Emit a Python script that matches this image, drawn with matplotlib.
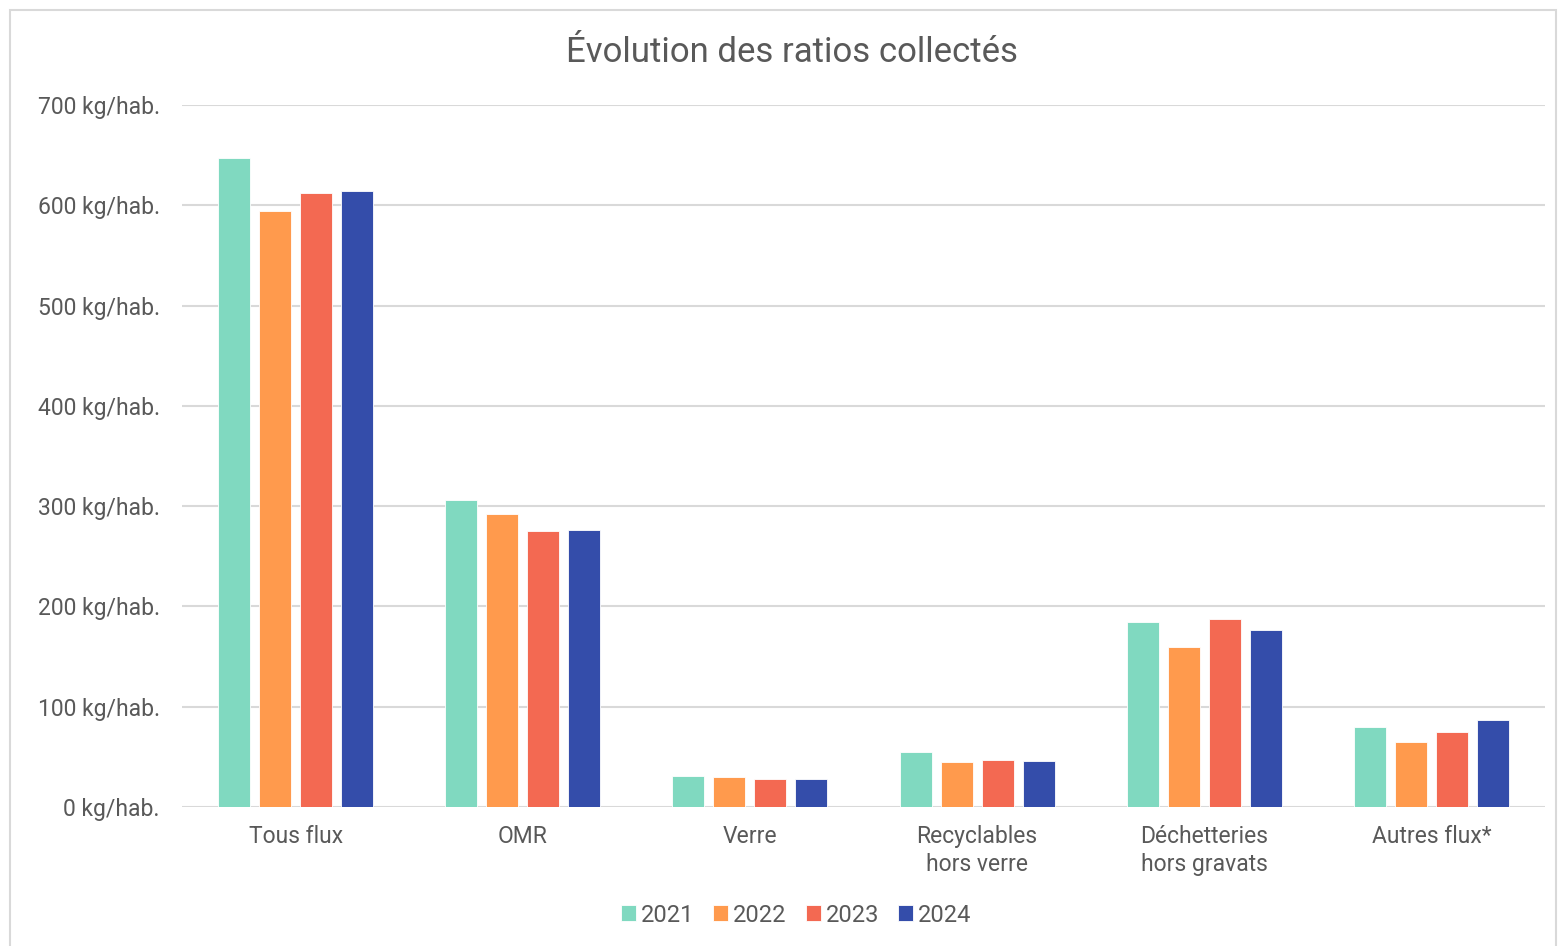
import matplotlib
matplotlib.use("Agg")
import matplotlib.pyplot as plt
import numpy as np
from matplotlib.patches import Rectangle

categories = ["Tous flux", "OMR", "Verre", "Recyclables\nhors verre", "Déchetteries\nhors gravats", "Autres flux*"]
years = ["2021", "2022", "2023", "2024"]
v2021 = [647, 306, 31, 55, 184, 80]
v2022 = [594, 292, 30, 45, 160, 65]
v2023 = [612, 275, 28, 47, 187, 75]
v2024 = [614, 276, 28, 46, 176, 87]
yticks = [0, 100, 200, 300, 400, 500, 600, 700]
title = "Évolution des ratios collectés"

series = [v2021, v2022, v2023, v2024]
colors = ["#80D9C0", "#FF9A4D", "#F36952", "#344DAA"]
text_color = "#595959"
grid_color = "#D9D9D9"

plt.rcParams['font.family'] = ['Roboto', 'DejaVu Sans']

fig = plt.figure(figsize=(15.58, 9.46), dpi=100)
fig.patches.append(Rectangle((10/1558, -0.01), (1556-10)/1558, 1 - 10/946 + 0.01,
                             transform=fig.transFigure, fill=False,
                             edgecolor=grid_color, linewidth=1.5))

ax = fig.add_axes([182/1558, 1-807/946, (1545-182)/1558, (807-105)/946])
x = np.arange(len(categories))
slot = 41/227
width = 32/227
for i, (vals, c, yr) in enumerate(zip(series, colors, years)):
    ax.bar(x + (i - 1.5) * slot, vals, width=width, color=c, label=yr,
           edgecolor="white", linewidth=0.6, zorder=3)

ax.set_xlim(-0.5, len(categories) - 0.5)
ax.set_ylim(0, 700)
ax.set_yticks(yticks)
ax.set_yticklabels([f"{v} kg/hab." for v in yticks])
ax.set_xticks(x)
ax.set_xticklabels(categories, linespacing=1.3)
ax.grid(axis='y', color=grid_color, linewidth=1.5, zorder=0)
for s in ax.spines.values():
    s.set_visible(False)
ax.tick_params(axis='both', length=0, colors=text_color, labelsize=16.5)
ax.tick_params(axis='y', pad=16)
ax.tick_params(axis='x', pad=13)

fig.text(792/1558, 1-52/946, title, ha='center', va='center', fontsize=25, color=text_color)

leg = fig.legend(loc='center', bbox_to_anchor=(796/1558, 1-915/946), ncol=4, frameon=False,
                 fontsize=17, handlelength=0.65, handleheight=0.65, handletextpad=0.2,
                 columnspacing=0.8, labelcolor=text_color)

fig.savefig("out.png", dpi=100, facecolor="white")
